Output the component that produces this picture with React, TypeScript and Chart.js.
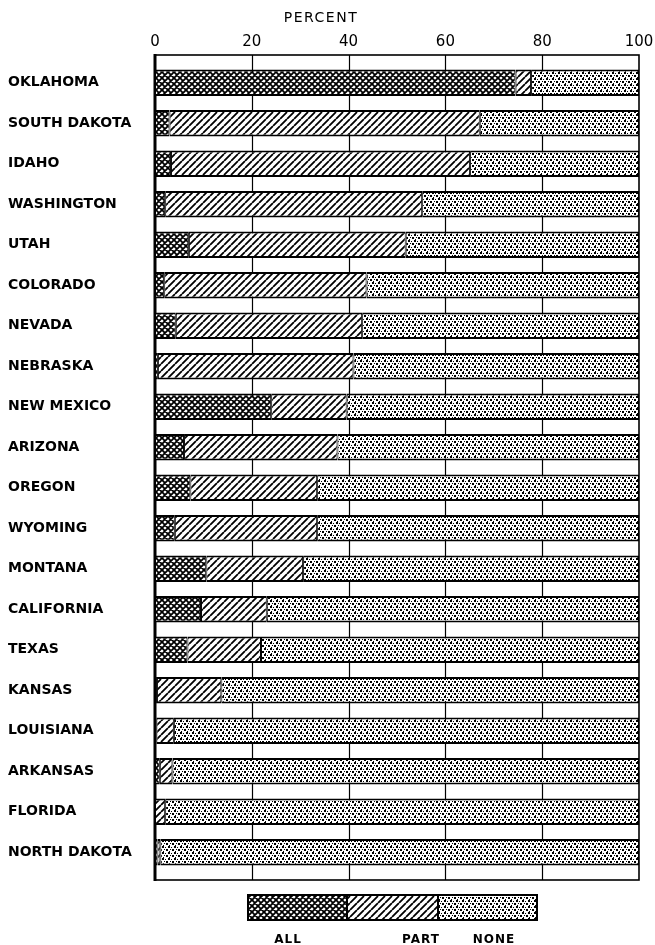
import React, { useEffect, useRef } from 'react';
import { Chart, registerables } from 'chart.js';

Chart.register(...registerables);

const states = [
  'OKLAHOMA', 'SOUTH DAKOTA', 'IDAHO', 'WASHINGTON', 'UTAH', 'COLORADO', 'NEVADA',
  'NEBRASKA', 'NEW MEXICO', 'ARIZONA', 'OREGON', 'WYOMING', 'MONTANA', 'CALIFORNIA',
  'TEXAS', 'KANSAS', 'LOUISIANA', 'ARKANSAS', 'FLORIDA', 'NORTH DAKOTA',
];
const allValues = [74.5, 3, 3.3, 2.1, 7, 1.9, 4.3, 0.6, 24, 6, 7.3, 4.1, 10.6, 9.5, 6.7, 0.4, 0.3, 1, 0, 0.5];
const partValues = [3.2, 64.1, 61.8, 53.1, 44.8, 41.8, 38.5, 40.4, 15.6, 31.7, 26.2, 29.4, 20, 13.6, 15.2, 13.3, 3.6, 2.6, 2.1, 0.6];
const noneValues = [22.3, 32.9, 34.9, 44.8, 48.2, 56.3, 57.2, 59.0, 60.4, 62.3, 66.5, 66.5, 69.4, 76.9, 78.1, 86.3, 96.1, 96.4, 97.9, 98.9];
const xTickValues = [0, 20, 40, 60, 80, 100];
const legendLabels = ['ALL', 'PART', 'NONE'];
const axisTitle = 'PERCENT';

function tile(w: number, h: number, draw: (g: CanvasRenderingContext2D) => void): CanvasPattern {
  const c = document.createElement('canvas');
  c.width = w;
  c.height = h;
  const g = c.getContext('2d')!;
  g.fillStyle = '#fff';
  g.fillRect(0, 0, w, h);
  draw(g);
  return g.createPattern(c, 'repeat')!;
}

function crossPattern() {
  const s = 6;
  return tile(s, s, (g) => {
    g.strokeStyle = '#000';
    g.lineWidth = 1.8;
    g.beginPath();
    for (let k = -s; k <= s; k += s) {
      g.moveTo(k, 0); g.lineTo(k + s, s);
      g.moveTo(k + s, 0); g.lineTo(k, s);
    }
    g.stroke();
  });
}

function hatchPattern() {
  const s = 7;
  return tile(s, s, (g) => {
    g.strokeStyle = '#000';
    g.lineWidth = 1.8;
    g.beginPath();
    for (let k = -s; k <= s; k += s) {
      g.moveTo(k, s); g.lineTo(k + s, 0);
    }
    g.stroke();
  });
}

function dotPattern() {
  return tile(6, 6, (g) => {
    g.fillStyle = '#000';
    g.fillRect(0, 0, 2, 2);
    g.fillRect(3, 1, 1, 1);
    g.fillRect(2, 3, 1, 1);
    g.fillRect(4, 3, 2, 2);
    g.fillRect(1, 5, 1, 1);
  });
}

export default function App() {
  const ref = useRef<HTMLCanvasElement | null>(null);

  useEffect(() => {
    if (!ref.current) return;
    const cross = crossPattern();
    const hatch = hatchPattern();
    const dots = dotPattern();
    const patterns = [cross, hatch, dots];
    const fontFam = "'DejaVu Sans', sans-serif";

    const border = { top: 2, bottom: 2, left: 1, right: 1 };
    const common = {
      borderColor: '#000',
      borderWidth: border,
      borderSkipped: false as const,
      categoryPercentage: 1,
      barPercentage: 0.654,
    };

    const framePlugin = {
      id: 'frame',
      beforeDatasetsDraw(chart: any) {
        const { ctx, chartArea: a, scales } = chart;
        const x = scales.x;
        const pad = 7.5;
        const top = a.top - pad;
        const bottom = a.bottom + pad;
        ctx.save();
        ctx.strokeStyle = '#000';
        ctx.lineWidth = 1.2;
        ctx.beginPath();
        for (const v of xTickValues.slice(1, -1)) {
          const px = Math.round(x.getPixelForValue(v)) + 0.5;
          ctx.moveTo(px, top);
          ctx.lineTo(px, bottom);
        }
        ctx.stroke();
        ctx.lineWidth = 1.6;
        ctx.strokeRect(a.left, top, a.right - a.left, bottom - top);
        ctx.lineWidth = 3;
        ctx.beginPath();
        ctx.moveTo(a.left, top - 1);
        ctx.lineTo(a.left, bottom + 1);
        ctx.stroke();
        ctx.restore();
      },
      afterDraw(chart: any) {
        const { ctx } = chart;
        ctx.save();
        ctx.letterSpacing = '1.5px';
        ctx.fillStyle = '#000';
        ctx.font = `14px ${fontFam}`;
        ctx.textAlign = 'center';
        ctx.textBaseline = 'middle';
        ctx.fillText(axisTitle, 321, 18);
        // legend
        const edges = [248, 347, 438, 537];
        const ly = 895;
        const lh = 25;
        for (let i = 0; i < 3; i++) {
          ctx.fillStyle = patterns[i];
          ctx.fillRect(edges[i], ly, edges[i + 1] - edges[i], lh);
        }
        ctx.strokeStyle = '#000';
        ctx.lineWidth = 2;
        ctx.strokeRect(edges[0], ly, edges[3] - edges[0], lh);
        ctx.beginPath();
        ctx.moveTo(edges[1], ly); ctx.lineTo(edges[1], ly + lh);
        ctx.moveTo(edges[2], ly); ctx.lineTo(edges[2], ly + lh);
        ctx.stroke();
        ctx.fillStyle = '#000';
        ctx.font = `bold 12px ${fontFam}`;
        ctx.letterSpacing = '1px';
        const lx = [288, 421, 494];
        ctx.textBaseline = 'alphabetic';
        for (let i = 0; i < 3; i++) ctx.fillText(legendLabels[i], lx[i], 943);
        ctx.restore();
      },
    };

    const chart = new Chart(ref.current, {
      type: 'bar',
      data: {
        labels: states,
        datasets: [
          { label: legendLabels[0], data: allValues, backgroundColor: cross, ...common },
          { label: legendLabels[1], data: partValues, backgroundColor: hatch, ...common },
          { label: legendLabels[2], data: noneValues, backgroundColor: dots, ...common },
        ],
      },
      options: {
        indexAxis: 'y',
        responsive: false,
        animation: false,
        layout: { padding: { left: 8, right: 16, top: 0, bottom: 72.5 } },
        plugins: { legend: { display: false }, tooltip: { enabled: false }, title: { display: false } },
        scales: {
          x: {
            position: 'top',
            stacked: true,
            min: 0,
            max: 100,
            afterBuildTicks(scale: any) {
              scale.ticks = xTickValues.map((v) => ({ value: v }));
            },
            afterFit(scale: any) {
              scale.height = 62.5;
              scale.paddingRight = 0;
              scale.paddingLeft = 0;
            },
            grid: { display: false, drawTicks: false },
            border: { display: false },
            ticks: {
              color: '#000',
              font: { family: fontFam, size: 15 },
              padding: 11,
              maxRotation: 0,
            },
          },
          y: {
            stacked: true,
            afterFit(scale: any) {
              scale.width = 147;
              scale.paddingTop = 0;
              scale.paddingBottom = 0;
            },
            grid: { display: false, drawTicks: false },
            border: { display: false },
            ticks: {
              color: '#000',
              crossAlign: 'far',
              font: { family: fontFam, size: 14, weight: 'bold' },
              autoSkip: false,
            },
          },
        },
      },
      plugins: [framePlugin],
    } as any);
    return () => chart.destroy();
  }, []);

  return (
    <div style={{ position: 'fixed', left: 0, top: 0, width: 655, height: 945, background: '#fff' }}>
      <canvas ref={ref} width={655} height={945} style={{ display: 'block' }} />
    </div>
  );
}
